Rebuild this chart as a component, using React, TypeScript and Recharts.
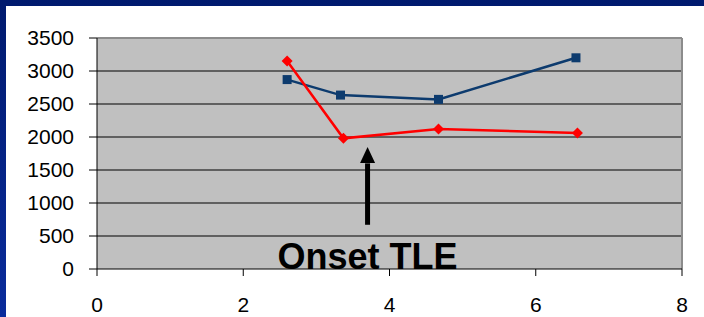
import { CartesianGrid, Line, LineChart, ReferenceDot, ReferenceLine, XAxis, YAxis } from "recharts";

const blueX = [2.6, 3.33, 4.67, 6.55];
const blueY = [2870, 2635, 2570, 3200];
const redX = [2.6, 3.37, 4.67, 6.57];
const redY = [3150, 1980, 2120, 2060];

const xTicks = [0, 2, 4, 6, 8];
const yTicks = [0, 500, 1000, 1500, 2000, 2500, 3000, 3500];
const gridValues = [500, 1000, 1500, 2000, 2500, 3000];

const onsetX = 3.7;
const arrowFrom = 670;
const arrowTo = 1850;
const onsetLabel = "Onset TLE";

const blueData = blueX.map((x, i) => ({ x, y: blueY[i] }));
const redData = redX.map((x, i) => ({ x, y: redY[i] }));

const font = "Arial, 'Liberation Sans', sans-serif";

const Square = (props: any) => {
    const { cx, cy, index } = props;
    return <rect key={`sq-${index}`} x={cx - 4.5} y={cy - 4.5} width={9} height={9} fill="#0d3b6e" />;
};

const Diamond = (props: any) => {
    const { cx, cy, index } = props;
    return (
        <polygon
            key={`dm-${index}`}
            points={`${cx},${cy - 5.5} ${cx + 5.5},${cy} ${cx},${cy + 5.5} ${cx - 5.5},${cy}`}
            fill="#ff0000"
        />
    );
};

const ArrowHead = (props: any) => {
    const { cx, cy } = props;
    return <polygon points={`${cx},${cy} ${cx + 7.5},${cy + 16} ${cx - 7.5},${cy + 16}`} fill="#000" />;
};

const OnsetText = (props: any) => {
    const { cx, cy } = props;
    return (
        <text x={cx} y={cy} textAnchor="middle" fontFamily={font} fontWeight="bold" fontSize={36} fill="#000">
            {onsetLabel}
        </text>
    );
};

export default function App() {
    return (
        <div
            style={{
                position: "fixed",
                top: 0,
                left: 0,
                width: 704,
                height: 317,
                background: "linear-gradient(180deg, #001a6e 0%, #0a2c9c 100%)",
            }}
        >
            <div style={{ position: "absolute", top: 6, left: 6, width: 698, height: 311, background: "#fff" }}>
                <LineChart width={698} height={311} margin={{ top: 32, right: 22, bottom: 0, left: 0 }}>
                    <CartesianGrid
                        vertical={false}
                        horizontalValues={gridValues}
                        stroke="#000"
                        strokeWidth={1}
                        fill="#c0c0c0"
                        fillOpacity={1}
                    />
                    <XAxis
                        type="number"
                        dataKey="x"
                        domain={[0, 8]}
                        ticks={xTicks}
                        allowDataOverflow
                        height={48}
                        tickSize={7}
                        tickMargin={21}
                        stroke="#000"
                        tick={{ fill: "#000", fontSize: 21, fontFamily: font }}
                    />
                    <YAxis
                        type="number"
                        domain={[0, 3500]}
                        ticks={yTicks}
                        width={91}
                        tickSize={8}
                        tickMargin={15}
                        stroke="#000"
                        tick={{ fill: "#000", fontSize: 21, fontFamily: font }}
                    />
                    <ReferenceLine y={3500} stroke="#8c8c8c" strokeWidth={2} />
                    <ReferenceLine x={8} stroke="#8c8c8c" strokeWidth={2} />
                    <Line
                        data={blueData}
                        dataKey="y"
                        stroke="#0d3b6e"
                        strokeWidth={2.5}
                        dot={Square}
                        activeDot={false}
                        isAnimationActive={false}
                    />
                    <Line
                        data={redData}
                        dataKey="y"
                        stroke="#ff0000"
                        strokeWidth={2.5}
                        dot={Diamond}
                        activeDot={false}
                        isAnimationActive={false}
                    />
                    <ReferenceLine
                        segment={[
                            { x: onsetX, y: arrowFrom },
                            { x: onsetX, y: arrowTo - 250 },
                        ]}
                        stroke="#000"
                        strokeWidth={5}
                    />
                    <ReferenceDot x={onsetX} y={arrowTo} shape={ArrowHead} />
                    <ReferenceDot x={onsetX} y={0} shape={OnsetText} />
                </LineChart>
            </div>
        </div>
    );
}
